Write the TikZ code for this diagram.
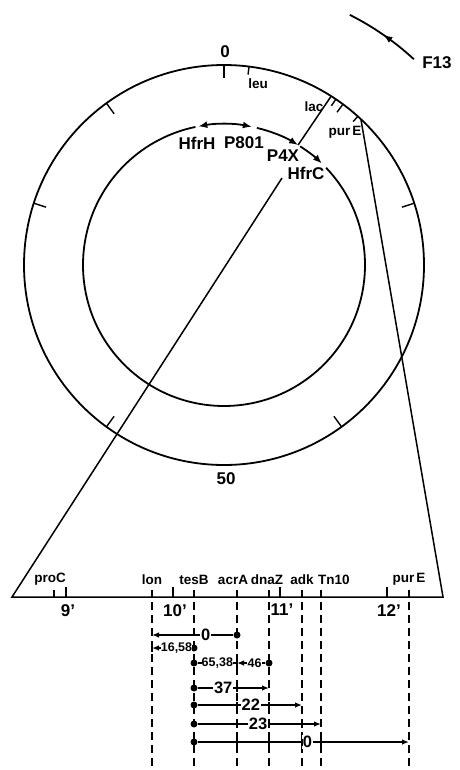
\documentclass[tikz,border=0pt]{standalone}
\usepackage{fontspec}
\setmainfont{Liberation Sans}
\usetikzlibrary{arrows.meta, positioning, calc, decorations.markings}

\begin{document}
\begin{tikzpicture}[x=1pt,y=-1pt,
  ring/.style={line width=1.8pt},
  wire/.style={line width=1.5pt},
  tickmark/.style={line width=1.4pt},
  guide/.style={line width=1.3pt,dash pattern=on 8pt off 5pt},
  arrow/.style={-{Latex[length=7pt,width=5.5pt]},line width=1.3pt},
  ringarrow/.style={ring,-{Latex[length=9pt,width=7pt]}},
  big/.style={font=\fontsize{17}{17}\selectfont\bfseries,inner sep=0pt},
  small/.style={font=\fontsize{13.5}{13.5}\selectfont\bfseries,inner sep=0pt},
  gene/.style={font=\fontsize{13.5}{13.5}\selectfont\bfseries,inner sep=0pt},
  tag/.style={font=\fontsize{16.5}{16.5}\selectfont\bfseries,fill=white,inner sep=1pt},
  num/.style={font=\fontsize{12.5}{12.5}\selectfont\bfseries,fill=white,inner sep=0.2pt},
  dot/.style={circle,fill,inner sep=0pt,minimum size=7pt}]
  \useasboundingbox (0,0) rectangle (459,770);

  % chromosome map
  \coordinate (c) at (224,265);
  \draw[ring] (c) circle[radius=200];
  \draw[ring] (c) ++(-43.6:141) arc[start angle=-43.6,end angle=258.3,radius=141];
  \draw[ring,{Latex[length=9pt,width=7pt]}-{Latex[length=9pt,width=7pt]}] (c) ++(-100.5:141) arc[start angle=-100.5,end angle=-78.6,radius=141];
  \draw[ringarrow] (c) ++(-76.5:141) arc[start angle=-76.5,end angle=-58.3,radius=141];
  \draw[ringarrow] (c) ++(-57.3:141) arc[start angle=-57.3,end angle=-46,radius=141];
  \foreach \a in {0,72,...,288,324}
    \draw[tickmark] (c) ++(\a-90:200) -- ++(\a+90:13);
  \draw[tickmark] (c) ++(-53.5:200) -- ++(126.5:10);
  \draw[tickmark] (c) ++(-82.8:200) -- ++(97.2:8);
  \draw[tickmark] (c) ++(-56:200) -- ++(124:8);
  \draw[tickmark] (c) ++(-48:200) -- ++(132:7);

  \node[big] (zero) at (225,52) {0};
  \node[small] (leu) at (258,84) {leu};
  \node[small] (lac) at (314,107) {lac};
  \node[small] (purEring) at (345,132) {pur\,E};
  \node[big] (hfrH) at (197,143) {HfrH};
  \node[big] (p801) at (244,143) {P801};
  \node[big] (p4x) at (283,156) {P4X};
  \node[big] (hfrC) at (306,173) {HfrC};
  \node[big] (fifty) at (226,479) {50};

  % F13 direction
  \draw[ring,postaction={decorate},
    decoration={markings,mark=at position 0.5 with {\arrow{Latex[length=9pt,width=7pt]}}}]
    (c) ++(-47.3:280) arc[start angle=-47.3,end angle=-63.3,radius=280];
  \node[big] (f13) at (437,63) {F13};

  % expanded segment
  \coordinate (lacO) at ($(c)+(-57.6:200)$);
  \coordinate (lacI) at ($(c)+(-58.3:141)$);
  \coordinate (purO) at ($(c)+(-46.8:200)$);
  \coordinate (hfrCfoot) at (282,178);
  \coordinate (sL) at (12,597);
  \coordinate (sR) at (443,597);
  \draw[wire] (lacO) -- (lacI);
  \draw[wire] (hfrCfoot) -- (sL) -- (sR) -- (purO);

  \foreach \n/\x in {proC/54,lon/152,tesB/194,acrA/237,dnaZ/269,adk/302,Tn10/321,purE/409}
    \coordinate (\n) at (\x,597);
  \foreach \n in {proC,lon,tesB,acrA,dnaZ,adk,Tn10,purE}
    \draw[tickmark] (\n) -- ++(0,-7);
  \foreach \m/\x in {9/66,10/173,11/280,12/387} {
    \coordinate (m\m) at (\x,597);
    \draw[tickmark] (m\m) -- ++(0,-10);
    \node[big,below=7pt of m\m,xshift=2pt] (m\m L) {\m'};
  }

  \node[gene,above=12pt of proC,xshift=-4pt] (proCL) {proC};
  \node[gene,above=12pt of lon] (lonL) {lon};
  \node[gene,above=12pt of tesB] (tesBL) {tesB};
  \node[gene,above=12pt of acrA,xshift=-4pt] (acrAL) {acrA};
  \node[gene,above=12pt of dnaZ,xshift=-2pt] (dnaZL) {dnaZ};
  \node[gene,above=12pt of adk] (adkL) {adk};
  \node[gene,above right=12pt and -3pt of Tn10] (Tn10L) {Tn10};
  \node[gene,above=12pt of purE] (purEL) {pur\,E};

  % guide lines
  \coordinate (bottom) at (0,768);
  \foreach \n in {lon,tesB,acrA,dnaZ,adk,Tn10,purE}
    \draw[guide] ($(\n)+(0,5)$) -- (\n |- bottom);

  % crosses
  \foreach \r/\y in {r1/635,r2/648,r3/663,r4/688,r5/705,r6/724,r7/742}
    \coordinate (\r) at (0,\y);

  \node[dot] (d1) at (acrA |- r1) {};
  \draw[arrow] (d1) -- node[tag,pos=0.34] (t1) {0} (lon |- r1);

  \node[dot] (d2) at (tesB |- r2) {};
  \draw[arrow] (d2) -- node[num,pos=0.36] (t2) {16,58} (lon |- r2);

  \node[dot] (d3a) at (tesB |- r3) {};
  \node[dot] (d3b) at (dnaZ |- r3) {};
  \draw[wire,line width=1.3pt] (d3a) -- node[num,pos=0.5] (t3a) {65,38} (acrA |- r3);
  \draw[arrow] (d3b) -- node[num,pos=0.38] (t3b) {46} (acrA |- r3);

  \node[dot] (d4) at (tesB |- r4) {};
  \draw[wire,line width=1.3pt] (d4) -- node[tag,pos=0.65] (t4) {37} (acrA |- r4);
  \draw[arrow] (acrA |- r4) -- (dnaZ |- r4);

  \node[dot] (d5) at (tesB |- r5) {};
  \draw[arrow] (d5) -- node[tag,pos=0.51] (t5) {22} (adk |- r5);

  \node[dot] (d6) at (tesB |- r6) {};
  \draw[arrow] (d6) -- node[tag,pos=0.49] (t6) {23} (Tn10 |- r6);

  \node[dot] (d7) at (tesB |- r7) {};
  \draw[arrow] (d7) -- node[tag,pos=0.52] (t7) {0} (purE |- r7);

  \foreach \n/\r in {lon/r2,acrA/r3,acrA/r4,acrA/r5,dnaZ/r5,acrA/r6,dnaZ/r6,adk/r6,acrA/r7,dnaZ/r7,adk/r7,Tn10/r7}
    \draw[tickmark,line width=1.2pt] ($(\n |- \r)+(0,-3.5)$) -- ($(\n |- \r)+(0,3.5)$);
\end{tikzpicture}
\end{document}
